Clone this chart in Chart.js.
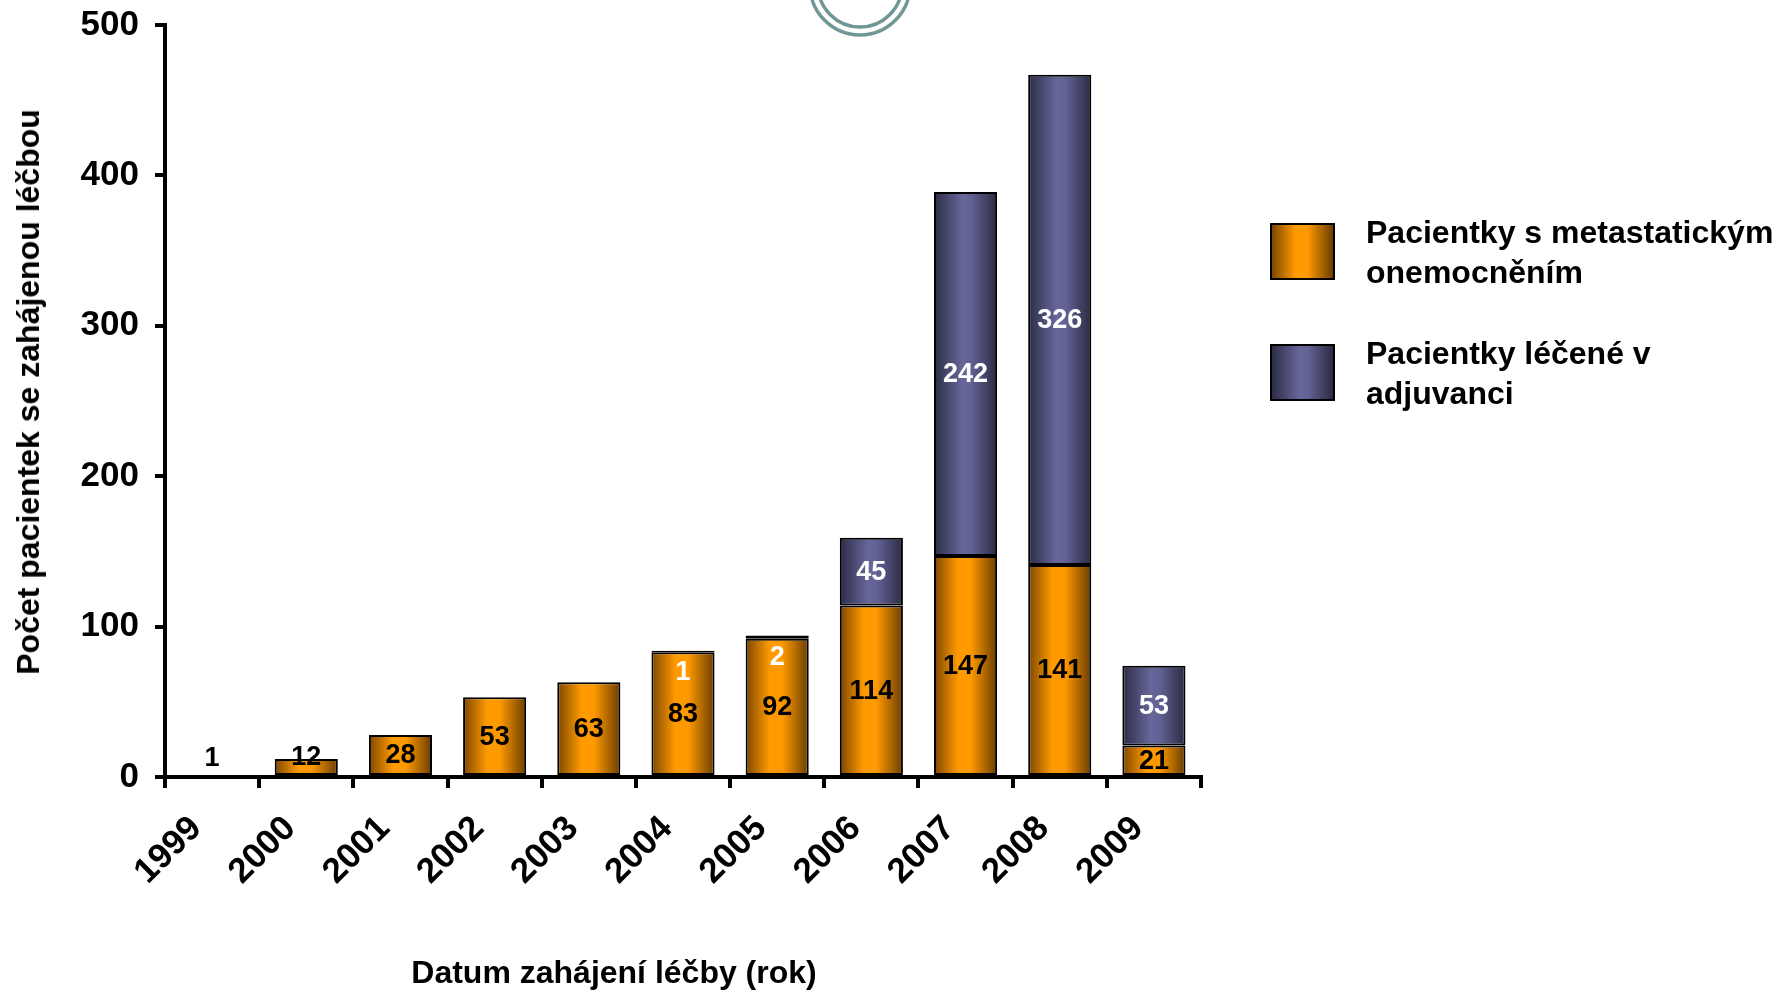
<!DOCTYPE html>
<html lang="cs">
<head>
<meta charset="utf-8">
<title>Počet pacientek podle roku zahájení léčby</title>
<script src="https://cdn.jsdelivr.net/npm/chart.js@4.4.1/dist/chart.umd.min.js"></script>
<style>
  html, body { margin: 0; padding: 0; background: #fff; }
  body { width: 1777px; height: 992px; position: relative; overflow: hidden;
         font-family: "Liberation Sans", Arial, sans-serif; font-weight: bold; }
  #chart { position: absolute; left: 0; top: 0; }
  .axisTitle { position: absolute; font-size: 32px; white-space: nowrap; color: #000; line-height: 1; }
  #xTitle { left: 614px; top: 972px; transform: translate(-50%, -50%); }
  #yTitle { left: 28px; top: 392px; transform: translate(-50%, -50%) rotate(-90deg); }
  #legend { position: absolute; left: 1270px; top: 223px; }
  .item { position: absolute; left: 0; white-space: nowrap; }
  .box { position: absolute; left: 0; width: 61px; height: 53px; border: 2px solid #000; }
  .txt { position: absolute; left: 96px; font-size: 32px; line-height: 40px; color: #000; }
</style>
</head>
<body>
<canvas id="chart" width="1777" height="992"></canvas>
<div id="xTitle" class="axisTitle"></div>
<div id="yTitle" class="axisTitle"></div>
<div id="legend"></div>
<script>
// Year of treatment start
const years = ['1999', '2000', '2001', '2002', '2003', '2004', '2005', '2006', '2007', '2008', '2009'];
// Patients with metastatic disease
const metastatic = [1, 12, 28, 53, 63, 83, 92, 114, 147, 141, 21];
// Patients treated in the adjuvant setting
const adjuvant = [null, null, null, null, null, 1, 2, 45, 242, 326, 53];
// Value axis ticks
const yTicks = [0, 100, 200, 300, 400, 500];

const seriesNames = [
  ['Pacientky s metastatickým', 'onemocněním'],
  ['Pacientky léčené v', 'adjuvanci']
];
const yTitle = 'Počet pacientek se zahájenou léčbou';
const xTitle = 'Datum zahájení léčby (rok)';

const FONT = '"Liberation Sans", Arial, sans-serif';
const BAR_PCT = 0.67;

const orangeStops = [[0, '#7c4700'], [0.38, '#ff9a00'], [0.58, '#ff9900'], [1, '#6a3d00']];
const purpleStops = [[0, '#2c2c46'], [0.45, '#67679b'], [0.6, '#616193'], [1, '#2a2a42']];

// Horizontal shading across each bar, built from the bar's own slot on the x scale
function barShade(stops) {
  return (ctx) => {
    const chart = ctx.chart;
    if (!chart.chartArea || ctx.type !== 'data') return stops[1][1];
    const xs = chart.scales.x;
    const cx = xs.getPixelForValue(ctx.dataIndex);
    const half = (xs.width / years.length) * BAR_PCT / 2;
    const g = chart.ctx.createLinearGradient(cx - half, 0, cx + half, 0);
    stops.forEach(([o, c]) => g.addColorStop(o, c));
    return g;
  };
}

// Values written inside each segment
const segmentLabels = {
  id: 'segmentLabels',
  afterDatasetsDraw(chart) {
    const c = chart.ctx;
    c.save();
    c.font = 'bold 27px ' + FONT;
    c.textAlign = 'center';
    c.textBaseline = 'middle';
    chart.data.datasets.forEach((ds, di) => {
      const meta = chart.getDatasetMeta(di);
      meta.data.forEach((el, i) => {
        const v = ds.data[i];
        if (v === null || v === undefined) return;
        const top = Math.min(el.y, el.base);
        const bottom = Math.max(el.y, el.base);
        let cy = (top + bottom) / 2;
        if (bottom - top < 26) {
          cy = di === 0 ? Math.min(cy, bottom - 18) : top + 21;
        }
        c.fillStyle = di === 0 ? '#000' : '#fff';
        c.fillText(String(v), el.x, cy + 1);
      });
    });
    c.restore();
  }
};

// Double ring ornament at the top edge of the slide
const ornament = {
  id: 'ornament',
  afterDraw(chart) {
    const c = chart.ctx;
    c.save();
    c.strokeStyle = '#6f9797';
    c.lineWidth = 3.5;
    [50, 42].forEach(r => {
      c.beginPath();
      c.arc(860, -15, r, 0, Math.PI * 2);
      c.stroke();
    });
    c.restore();
  }
};

const chart = new Chart(document.getElementById('chart'), {
  type: 'bar',
  data: {
    labels: years,
    datasets: [
      { label: seriesNames[0].join(' '), data: metastatic, backgroundColor: barShade(orangeStops),
        borderColor: '#000', borderWidth: 2, borderSkipped: false,
        barPercentage: BAR_PCT, categoryPercentage: 1 },
      { label: seriesNames[1].join(' '), data: adjuvant, backgroundColor: barShade(purpleStops),
        borderColor: '#000', borderWidth: 2, borderSkipped: false,
        barPercentage: BAR_PCT, categoryPercentage: 1 }
    ]
  },
  options: {
    responsive: false,
    animation: false,
    events: [],
    layout: { padding: { left: 0, top: 25, right: 576, bottom: 0 } },
    plugins: { legend: { display: false }, tooltip: { enabled: false } },
    scales: {
      x: {
        stacked: true,
        grid: { drawOnChartArea: false, offset: true, tickLength: 11, tickWidth: 4, tickColor: '#000', color: '#000', lineWidth: 4 },
        border: { display: true, width: 4, color: '#000' },
        ticks: { color: '#000', font: { family: FONT, size: 35, weight: 'bold' },
                 minRotation: 45, maxRotation: 45, padding: 20, labelOffset: -16, autoSkip: false },
        afterFit(s) { s.height = 992 - 777; }
      },
      y: {
        stacked: true,
        min: 0, max: 500,
        afterBuildTicks(s) { s.ticks = yTicks.map(v => ({ value: v })); },
        grid: { drawOnChartArea: false, tickLength: 10, tickWidth: 4, tickColor: '#000', color: '#000', lineWidth: 4 },
        border: { display: true, width: 4, color: '#000' },
        ticks: { color: '#000', font: { family: FONT, size: 35, weight: 'bold', lineHeight: 0.5 }, padding: 16 },
        afterFit(s) { s.width = 165; }
      }
    }
  },
  plugins: [segmentLabels, ornament]
});

// Axis titles
document.getElementById('xTitle').textContent = xTitle;
document.getElementById('yTitle').textContent = yTitle;

// Legend with shaded swatches
const legend = document.getElementById('legend');
const swatchCss = stops => 'linear-gradient(to right, ' + stops.map(([o, c]) => c + ' ' + (o * 100) + '%').join(', ') + ')';
[[orangeStops, 0], [purpleStops, 121]].forEach(([stops, top], i) => {
  const item = document.createElement('div');
  item.className = 'item';
  item.style.top = top + 'px';
  const box = document.createElement('div');
  box.className = 'box';
  box.style.background = swatchCss(stops);
  const txt = document.createElement('div');
  txt.className = 'txt';
  txt.style.top = '-11px';
  txt.innerHTML = seriesNames[i].join('<br>');
  item.appendChild(box);
  item.appendChild(txt);
  legend.appendChild(item);
});
</script>
</body>
</html>
